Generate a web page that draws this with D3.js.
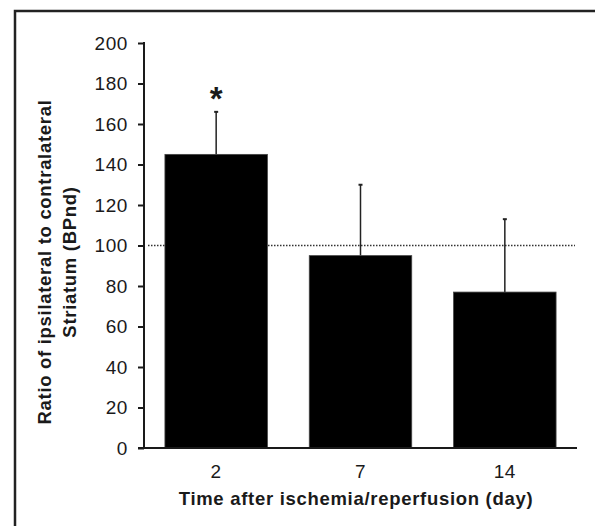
<!DOCTYPE html>
<meta charset="utf-8">
<style>
body { margin: 0; background: #fff; }
text { font-family: "Liberation Sans", Arial, sans-serif; fill: #1a1a1a; }
.axis path, .axis line { stroke: #1a1a1a; stroke-width: 2; }
.axis text { font-size: 19px; letter-spacing: 0.6px; }
.title { font-size: 18.5px; font-weight: bold; letter-spacing: 0.7px; }
</style>
<body>
<script src="https://cdn.jsdelivr.net/npm/d3@7"></script>
<script>

// days after ischemia/reperfusion
var days = ["2", "7", "14"];
// mean ratio (%) and upper error
var means = [145, 95, 77];
var errors = [21, 35, 36];
var yTicks = [0, 20, 40, 60, 80, 100, 120, 140, 160, 180, 200];

var width = 595, height = 526;
var mLeft = 144, mRight = 577, mTop = 43, mBottom = 448;

var svg = d3.select("body").append("svg")
    .attr("width", width)
    .attr("height", height);

// frame, only top and left edges
svg.append("path")
    .attr("d", "M15,526V11H595")
    .attr("fill", "none")
    .attr("stroke", "#222")
    .attr("stroke-width", 2.5);

var y = d3.scaleLinear().domain([0, 200]).range([mBottom, mTop]);
var x = d3.scaleBand().domain(days).range([mLeft, mRight])
    .paddingInner(0.29).paddingOuter(0.145);

// reference line at 100
svg.append("line")
    .attr("x1", mLeft + 4).attr("x2", mRight - 2)
    .attr("y1", y(100)).attr("y2", y(100))
    .attr("stroke", "#333")
    .attr("stroke-width", 1.5)
    .attr("stroke-dasharray", "1.5,1.5");

var data = days.map(function(d, i) { return {day: d, mean: means[i], err: errors[i]}; });

// error bars (upper only)
var eb = svg.selectAll(".err").data(data).enter().append("g").attr("class", "err");
eb.append("line")
    .attr("x1", function(d) { return x(d.day) + x.bandwidth() / 2; })
    .attr("x2", function(d) { return x(d.day) + x.bandwidth() / 2; })
    .attr("y1", function(d) { return y(d.mean); })
    .attr("y2", function(d) { return y(d.mean + d.err); })
    .attr("stroke", "#222").attr("stroke-width", 1.5);
eb.append("line")
    .attr("x1", function(d) { return x(d.day) + x.bandwidth() / 2 - 2; })
    .attr("x2", function(d) { return x(d.day) + x.bandwidth() / 2 + 2; })
    .attr("y1", function(d) { return y(d.mean + d.err); })
    .attr("y2", function(d) { return y(d.mean + d.err); })
    .attr("stroke", "#222").attr("stroke-width", 2);

svg.selectAll(".bar").data(data).enter().append("rect")
    .attr("class", "bar")
    .attr("x", function(d) { return x(d.day); })
    .attr("y", function(d) { return y(d.mean); })
    .attr("width", x.bandwidth())
    .attr("height", function(d) { return y(0) - y(d.mean); })
    .attr("fill", "#000")
    .attr("stroke", "#444")
    .attr("stroke-width", 0.8);

// significance marker
svg.append("text")
    .attr("x", x("2") + x.bandwidth() / 2)
    .attr("y", y(167))
    .attr("text-anchor", "middle")
    .style("font-size", "33px")
    .style("font-weight", "bold")
    .text("*");

svg.append("g")
    .attr("class", "axis")
    .attr("transform", "translate(" + mLeft + ",0)")
    .call(d3.axisLeft(y).tickValues(yTicks).tickSize(6).tickSizeOuter(0).tickPadding(10))
    .call(function(g) { g.select(".domain").attr("d", "M0," + (mTop - 1) + "V" + mBottom); });

svg.append("g")
    .attr("class", "axis")
    .attr("transform", "translate(0," + mBottom + ")")
    .call(d3.axisBottom(x).tickSize(0).tickPadding(17))
    .call(function(g) { g.select(".domain").attr("d", "M" + (mLeft - 6) + ",0H" + mRight); });

svg.selectAll(".axis text").attr("fill", "#1a1a1a").style("font-family", null);

svg.append("text")
    .attr("class", "title")
    .attr("x", 356)
    .attr("y", 505)
    .attr("text-anchor", "middle")
    .text("Time after ischemia/reperfusion (day)");

var yt = svg.append("text")
    .attr("class", "title")
    .attr("transform", "translate(51,262) rotate(-90)")
    .attr("text-anchor", "middle");
yt.append("tspan").attr("x", 0).attr("dy", 0).text("Ratio of ipsilateral to contralateral");
yt.append("tspan").attr("x", 0).attr("dy", "1.35em").text("Striatum (BPnd)");

</script>
</body>
